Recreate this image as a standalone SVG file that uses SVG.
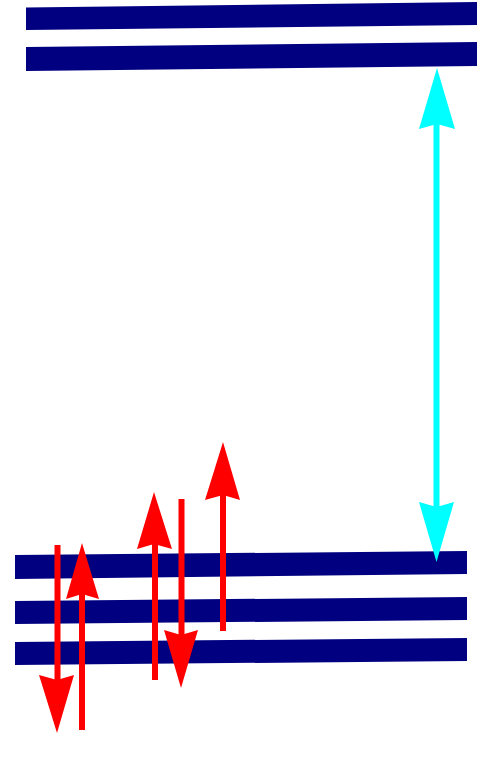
<svg xmlns="http://www.w3.org/2000/svg" width="495" height="765" viewBox="0 0 495 765">
<style>
.bar{fill:#000080}
.red line{stroke:#ff0000;stroke-width:6}
.red polygon{fill:#ff0000}
.cyan line{stroke:#00ffff;stroke-width:6}
.cyan polygon{fill:#00ffff}
</style>
<rect width="495" height="765" fill="#ffffff"/>
<g id="level-top-1"><polygon class="bar" points="26,7.5 477,2 477,25 26,30"/></g>
<g id="level-top-2"><polygon class="bar" points="26,47 477,42 477,66 26,71"/></g>
<g id="level-bottom-1"><polygon class="bar" points="15,555 467,551 467,574 15,579"/></g>
<g id="level-bottom-2"><polygon class="bar" points="15,601 467,597 467,620 15,624"/></g>
<g id="level-bottom-3"><polygon class="bar" points="15,642 467,638 467,661 15,665"/></g>
<g id="connectors">
<g class="cyan">
<line x1="436.5" y1="120" x2="436.5" y2="510"/>
<polygon points="437,68 455,129 437,124 419,129"/>
<polygon points="436.5,562 419,502 436.5,507 454,502"/>
</g>
<g class="red">
<line x1="57.5" y1="545" x2="57.5" y2="680"/>
<polygon points="57,733 39,675 57,680 74,675"/>
<line x1="82" y1="590" x2="82" y2="730"/>
<polygon points="82,543 66,599 82,594 99,599"/>
<line x1="155" y1="540" x2="155" y2="680"/>
<polygon points="154,492 137,549 154,544 172,549"/>
<line x1="181.5" y1="499" x2="181.5" y2="635"/>
<polygon points="181,688 164,630 181,635 198,630"/>
<line x1="223" y1="495" x2="223" y2="631"/>
<polygon points="223,442 205,500 223,495 240,500"/>
</g>
</g>
</svg>
